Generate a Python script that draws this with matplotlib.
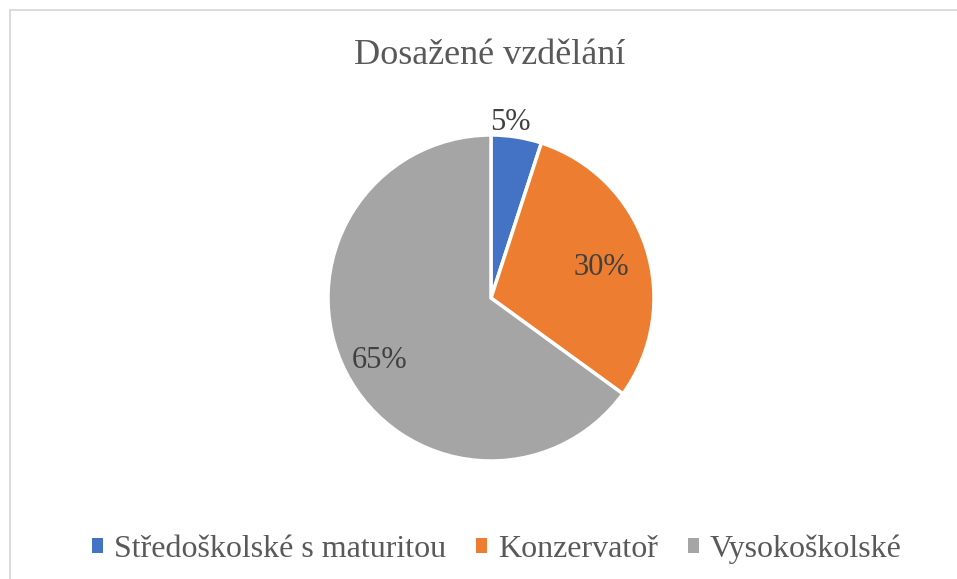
import numpy as np
import matplotlib.pyplot as plt
from matplotlib.patches import Rectangle, Patch

kategorie = ["Středoškolské s maturitou", "Konzervatoř", "Vysokoškolské"]
podily = [5, 30, 65]
barvy = ["#4472C4", "#ED7D31", "#A5A5A5"]
popisky = ["5%", "30%", "65%"]
vzdalenost = [1.12, 0.71, 0.77]  # kde sedi popisky (v polomerech)

plt.rcParams['font.family'] = ['Liberation Serif', 'DejaVu Serif']

W, H = 957, 579
fig = plt.figure(figsize=(W/100, H/100), dpi=100)

# ramecek grafu (jen levy a horni okraj je videt)
fig.patches.append(Rectangle((10/W, -0.1), 1.2, (H-10)/H + 0.1, transform=fig.transFigure,
                             fill=False, edgecolor="#D9D9D9", linewidth=1.3))

fig.text(490/W, 1 - 56/H, "Dosažené vzdělání", ha="center", va="center",
         fontsize=26, color="#595959")

r_px = 163
cx, cy = 491, H - 298
ax = fig.add_axes([(cx - r_px)/W, (cy - r_px)/H, 2*r_px/W, 2*r_px/H])
wedges, _ = ax.pie(podily, colors=barvy, startangle=90, counterclock=False,
                   wedgeprops=dict(edgecolor="white", linewidth=2.5))
ax.set_xlim(-1, 1)
ax.set_ylim(-1, 1)
ax.set_aspect("equal")
ax.axis("off")

for w, txt, d in zip(wedges, popisky, vzdalenost):
    uhel = np.deg2rad((w.theta1 + w.theta2) / 2 + (3 if txt == "5%" else 0))
    ax.text(d*np.cos(uhel), d*np.sin(uhel) - 0.035, txt, ha="center", va="center",
            fontsize=22, color="#404040", clip_on=False)

handles = [Patch(facecolor=c, edgecolor="none") for c in barvy]
fig.legend(handles, kategorie, loc="center", bbox_to_anchor=(497/W, 1 - 549/H),
           ncol=3, frameon=False, fontsize=23, labelcolor="#595959",
           handlelength=0.33, handleheight=0.33, handletextpad=0.35, columnspacing=0.95)

fig.savefig("out.png", dpi=100)
